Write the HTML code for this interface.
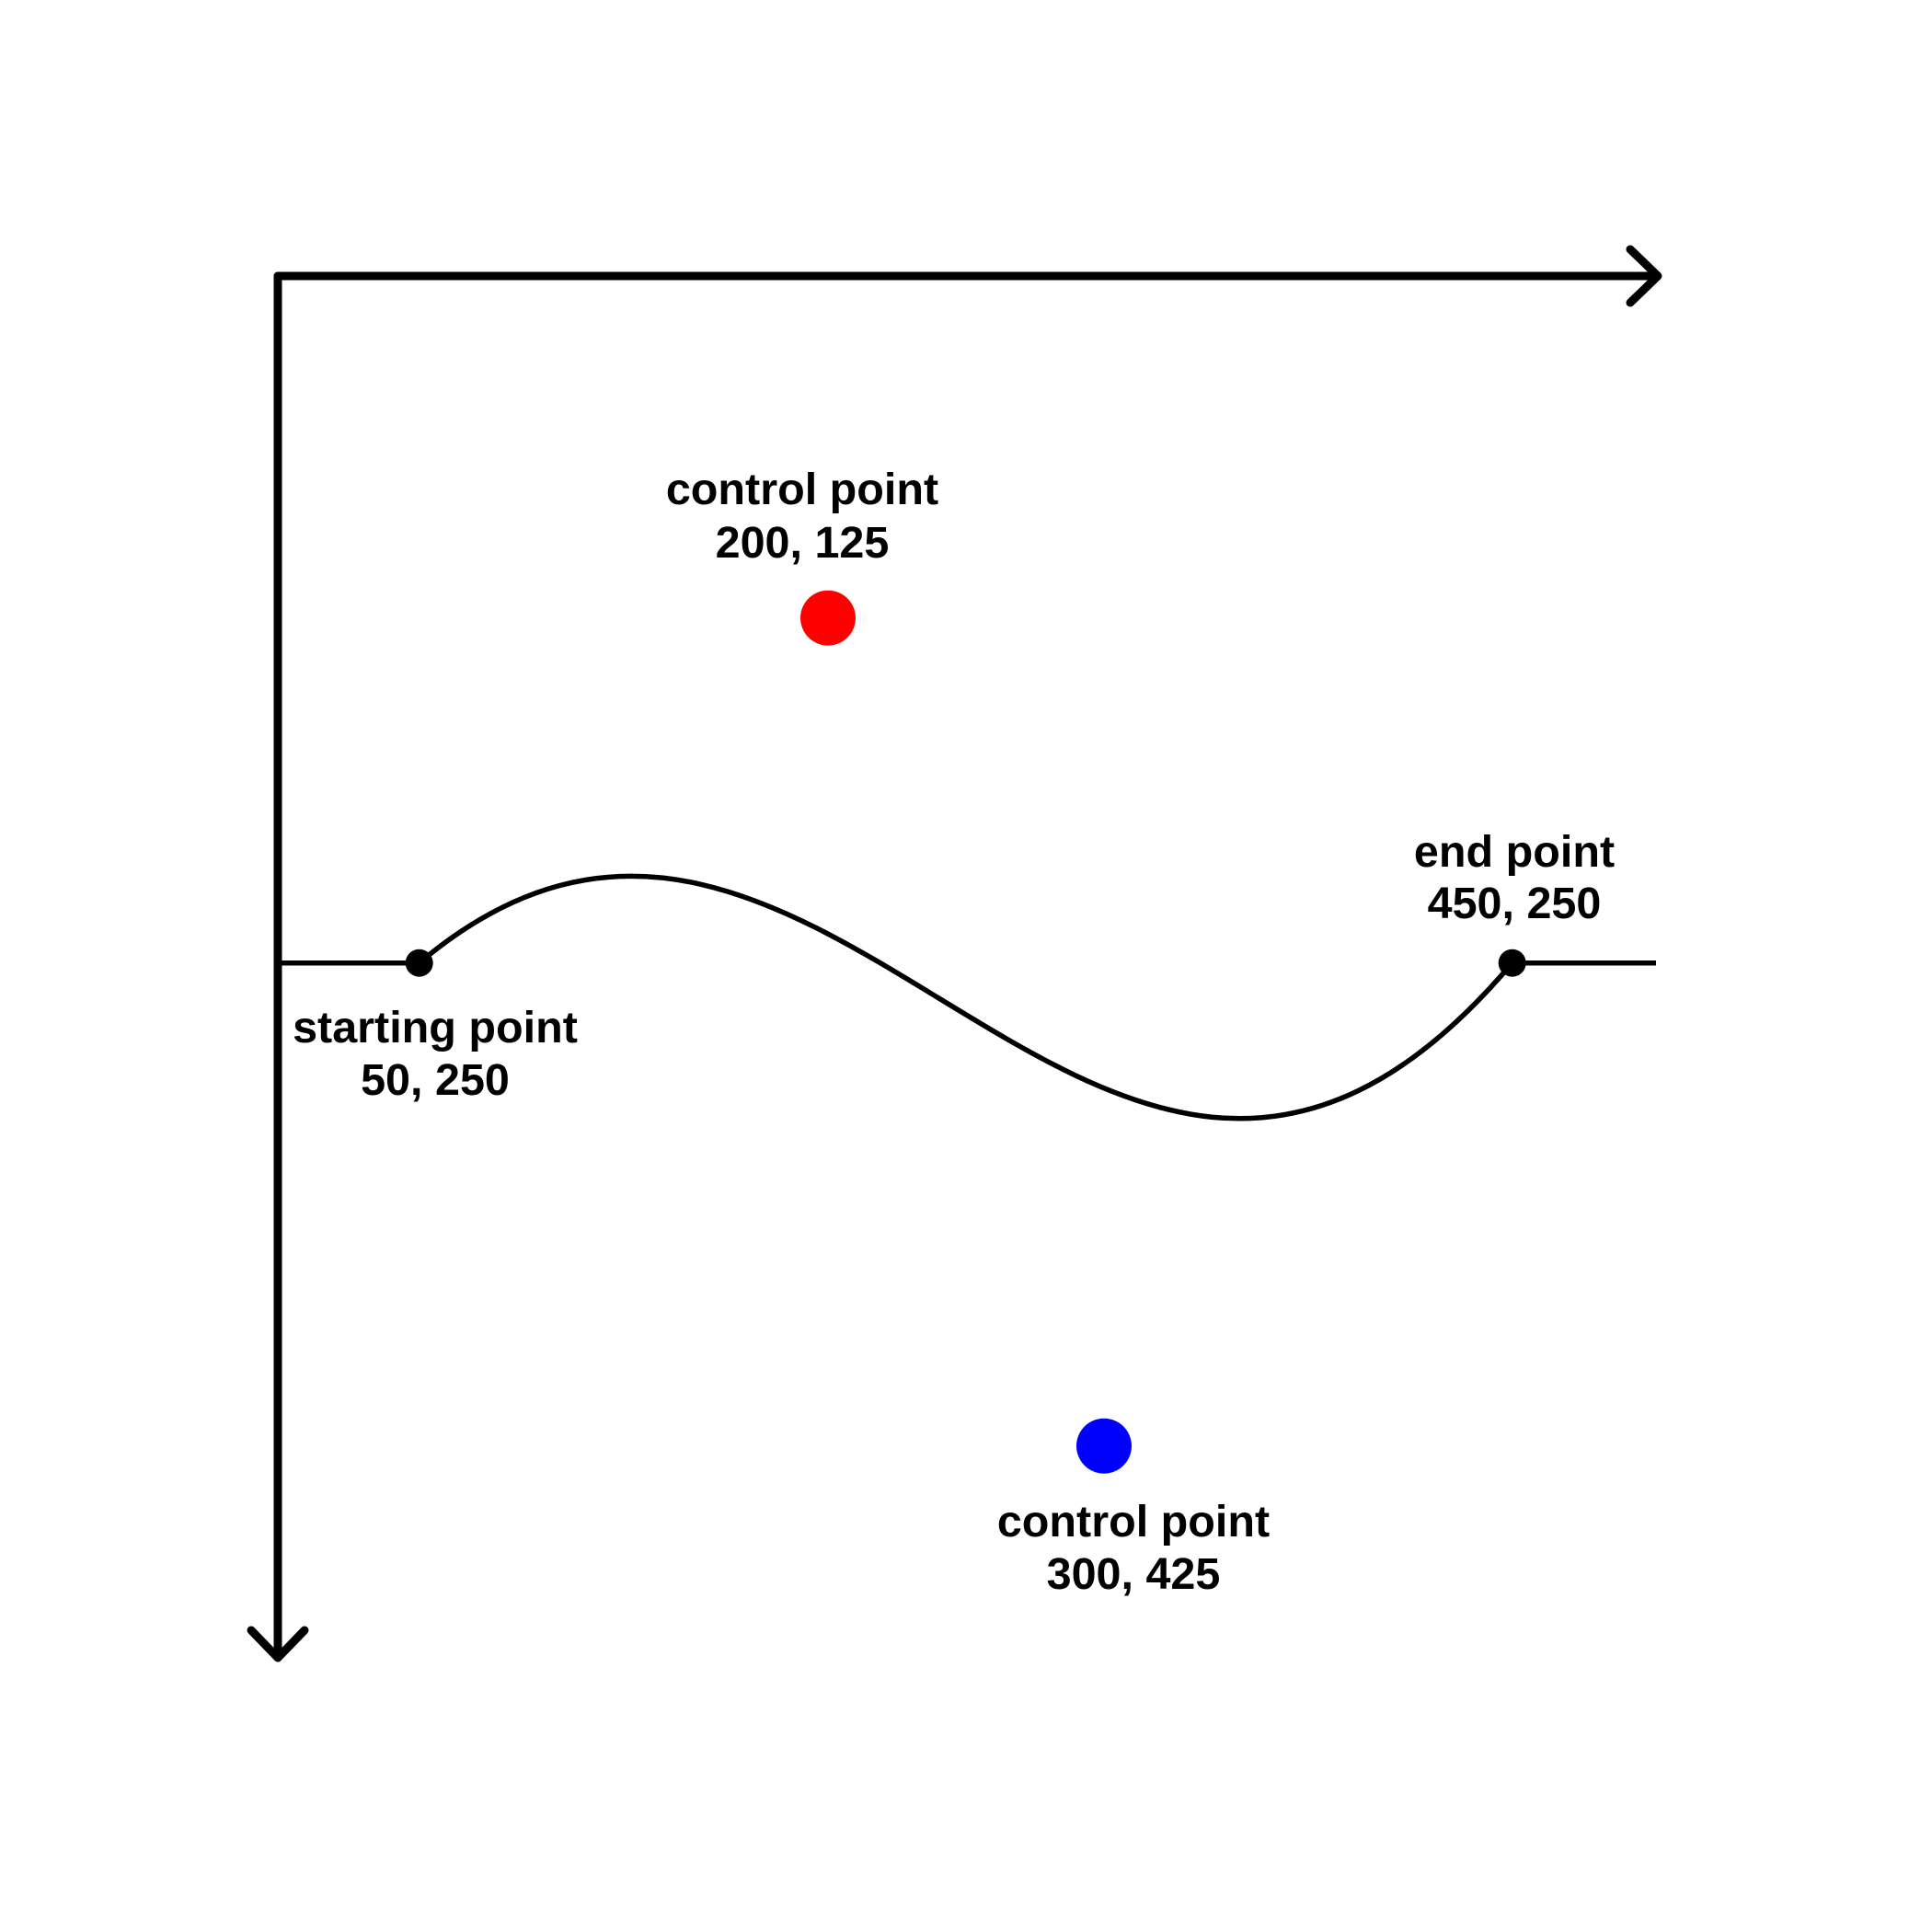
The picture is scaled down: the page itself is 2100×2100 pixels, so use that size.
<!DOCTYPE html>
<html><head><meta charset="utf-8"><style>html,body{margin:0;padding:0;background:#fff}svg{display:block}</style></head>
<body>
<svg width="2100" height="2100" viewBox="0 0 2100 2100" xmlns="http://www.w3.org/2000/svg">
<rect width="2100" height="2100" fill="#fff"/>
<g stroke="#000" stroke-width="9" fill="none" stroke-linecap="round" stroke-linejoin="round">
<path d="M302 300 H1801"/>
<path d="M302 300 V1801"/>
<path d="M1772 271 L1802 300 L1772 329"/>
<path d="M273 1772 L302 1802 L331 1772"/>
</g>
<g stroke="#000" stroke-width="5.5" fill="none">
<path d="M302 1046.7 H455.7"/>
<path d="M1643.7 1046.7 H1800"/>
<path d="M455.7 1046.7 C900 671.7 1200 1571.7 1643.7 1046.7"/>
</g>
<circle cx="455.7" cy="1046.7" r="15" fill="#000"/>
<circle cx="1643.7" cy="1046.7" r="15" fill="#000"/>
<circle cx="900" cy="671.7" r="30" fill="#f00"/>
<circle cx="1200" cy="1571.7" r="30" fill="#00f"/>
<g font-family="Liberation Sans, sans-serif" font-weight="bold" font-size="48.5" text-anchor="middle" fill="#000">
<text x="872" y="548">control point</text>
<text x="872" y="606">200, 125</text>
<text x="1646" y="942">end point</text>
<text x="1646" y="998">450, 250</text>
<text x="473" y="1133">starting point</text>
<text x="473" y="1190">50, 250</text>
<text x="1232" y="1670">control point</text>
<text x="1232" y="1727">300, 425</text>
</g>
</svg>
</body></html>
